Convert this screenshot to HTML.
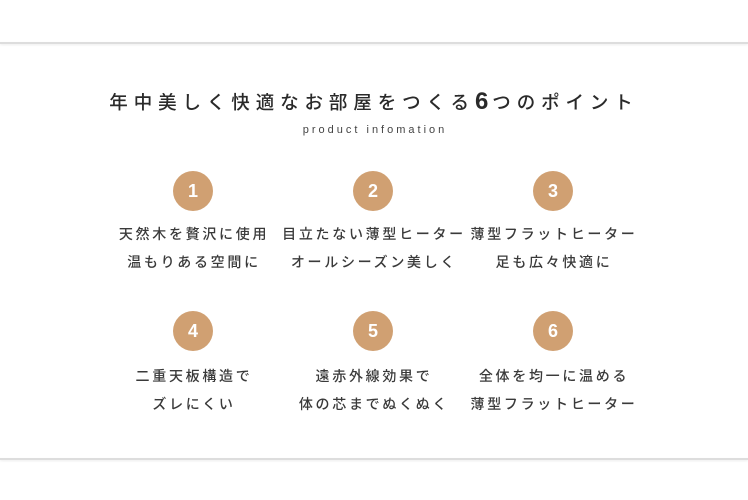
<!DOCTYPE html>
<html><head><meta charset="utf-8"><style>
body{margin:0;width:748px;height:500px;background:#fff;position:relative;overflow:hidden;font-family:"Liberation Sans","Noto Sans CJK JP",sans-serif;color:#333}
.band{position:absolute;left:0;width:748px;height:2px;background:#ddd;box-shadow:0 1px 2px rgba(0,0,0,.08)}
.t{position:absolute;left:0;width:748px;text-align:center;white-space:nowrap}
.c{position:absolute;width:40px;height:40px;border-radius:50%;background:#d0a072;color:#fff;font-weight:bold;font-size:18px;line-height:40px;text-align:center}
.txt{position:absolute;width:200px;text-align:center;font-size:14px;letter-spacing:2.7px;line-height:28px;white-space:nowrap;color:#3a3a3a;font-weight:500}
</style></head><body>
<div class="band" style="top:42px"></div>
<div class="band" style="top:458px"></div>
<div class="t" style="top:88px;font-size:18.5px;letter-spacing:5.9px;color:#2a2a2a;padding-left:0;font-weight:500">年中美しく快適なお部屋をつくる<b style="font-size:24px;letter-spacing:4px">6</b>つのポイント</div>
<div class="t" style="top:124px;font-size:11px;letter-spacing:3px;color:#444;padding-left:1px">product infomation</div>
<div class="c" style="left:173px;top:171px">1</div>
<div class="c" style="left:353px;top:171px">2</div>
<div class="c" style="left:533px;top:171px">3</div>
<div class="c" style="left:173px;top:311px">4</div>
<div class="c" style="left:353px;top:311px">5</div>
<div class="c" style="left:533px;top:311px">6</div>
<div class="txt" style="left:94px;top:220px">天然木を贅沢に使用<br>温もりある空間に</div>
<div class="txt" style="left:274px;top:220px">目立たない薄型ヒーター<br>オールシーズン美しく</div>
<div class="txt" style="left:454px;top:220px">薄型フラットヒーター<br>足も広々快適に</div>
<div class="txt" style="left:94px;top:362px">二重天板構造で<br>ズレにくい</div>
<div class="txt" style="left:274px;top:362px">遠赤外線効果で<br>体の芯までぬくぬく</div>
<div class="txt" style="left:454px;top:362px">全体を均一に温める<br>薄型フラットヒーター</div>
</body></html>
